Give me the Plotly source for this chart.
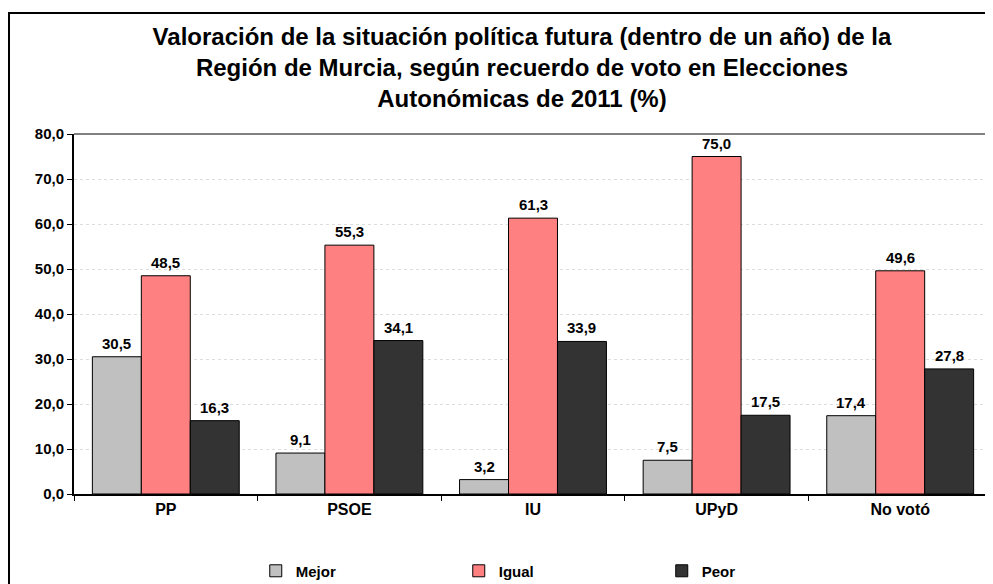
import plotly.graph_objects as go

categories = ["PP", "PSOE", "IU", "UPyD", "No votó"]
series_names = ["Mejor", "Igual", "Peor"]
mejor = [30.5, 9.1, 3.2, 7.5, 17.4]
igual = [48.5, 55.3, 61.3, 75.0, 49.6]
peor = [16.3, 34.1, 33.9, 17.5, 27.8]
y_ticks = [0, 10, 20, 30, 40, 50, 60, 70, 80]
y_tick_labels = ["0,0", "10,0", "20,0", "30,0", "40,0", "50,0", "60,0", "70,0", "80,0"]

colors = ["#C0C0C0", "#FF8080", "#333333"]
values = [mejor, igual, peor]

FONT = "Liberation Sans, Arial, sans-serif"

fig = go.Figure()
for name, vals, col in zip(series_names, values, colors):
    fig.add_trace(go.Bar(
        x=categories, y=vals, name=name,
        marker=dict(color=col, line=dict(color="#000000", width=1)),
    ))

annotations = []
bar_px = 918 / 5 * 0.8 / 3
for i, vals in enumerate(values):
    for c, v in zip(categories, vals):
        annotations.append(dict(
            x=c, y=v, xref="x", yref="y", text=f"{v:.1f}".replace(".", ","),
            showarrow=False, yanchor="bottom", yshift=3, xshift=(i - 1) * bar_px,
            font=dict(family=FONT, size=15, color="#000000", weight="bold"),
        ))

fig.update_layout(
    width=993, height=584,
    margin=dict(l=66, r=9, t=126, b=98, autoexpand=False),
    paper_bgcolor="white", plot_bgcolor="white",
    font=dict(family=FONT, color="#000000"),
    title=dict(
        text="Valoración de la situación política futura (dentro de un año) de la<br>Región de Murcia, según recuerdo de voto en Elecciones<br>Autonómicas de 2011 (%)",
        x=514 / 993, xanchor="center", xref="container",
        y=1 - 37 / 584, yanchor="middle", yref="container",
        font=dict(family=FONT, size=24, color="#000000", weight="bold"),
    ),
    barmode="group", bargap=0.2, bargroupgap=0,
    showlegend=True,
    legend=dict(
        orientation="h", x=0.198, xanchor="left", y=-0.214, yanchor="middle",
        entrywidth=158, entrywidthmode="pixels",
        font=dict(family=FONT, size=15, color="#000000", weight="bold"),
        traceorder="normal",
        bgcolor="rgba(0,0,0,0)",
    ),
    annotations=annotations,
    shapes=[
        dict(type="rect", xref="paper", yref="paper", x0=(1 - 66) / 918, x1=1.2, y0=1.336, y1=-0.6,
             line=dict(color="#000000", width=2), fillcolor="rgba(0,0,0,0)", layer="below"),
        dict(type="line", xref="paper", yref="paper", x0=0, x1=1, y0=1, y1=1,
             line=dict(color="#808080", width=2)),
        dict(type="line", xref="paper", yref="paper", x0=1, x1=1, y0=0, y1=1,
             line=dict(color="#808080", width=2)),
    ],
)

fig.update_yaxes(
    range=[0, 80], tickvals=y_ticks, ticktext=y_tick_labels,
    showgrid=True, gridcolor="#DDDDDD", griddash="dot", gridwidth=1,
    showline=True, linecolor="#000000", linewidth=2,
    ticks="outside", ticklen=5, tickcolor="#000000", tickwidth=1,
    tickfont=dict(family=FONT, size=15, color="#000000", weight="bold"),
    zeroline=False, fixedrange=True, automargin=False,
)
fig.update_xaxes(
    showline=True, linecolor="#000000", linewidth=2,
    ticks="outside", ticklen=5, tickcolor="#000000", tickwidth=1, tickson="boundaries",
    tickfont=dict(family=FONT, size=16, color="#000000", weight="bold"),
    showgrid=False, automargin=False,
)

fig.write_html("out.html")
